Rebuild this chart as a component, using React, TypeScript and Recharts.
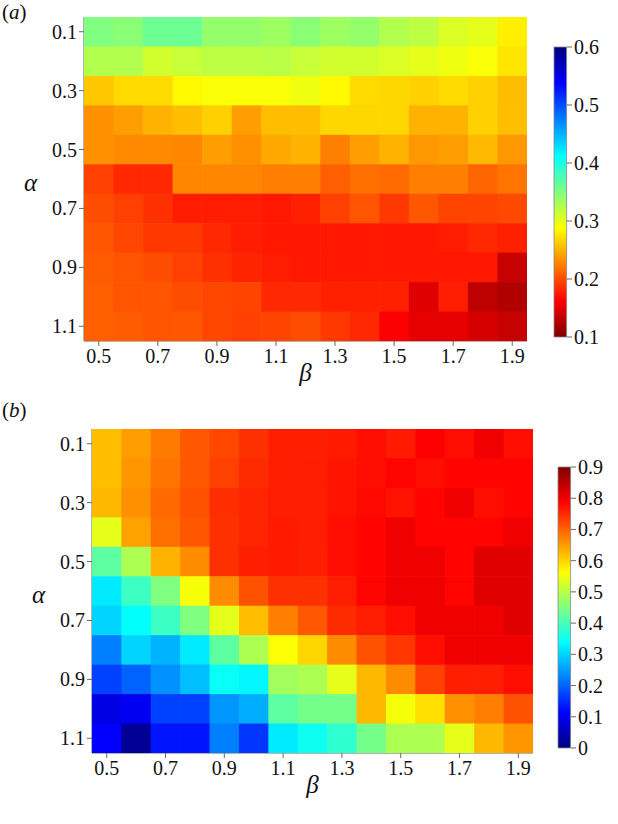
import React from "react";
import { ScatterChart, Scatter, XAxis, YAxis, BarChart, Bar, Label } from "recharts";

const BETA = [0.5, 0.6, 0.7, 0.8, 0.9, 1.0, 1.1, 1.2, 1.3, 1.4, 1.5, 1.6, 1.7, 1.8, 1.9];
const ALPHA = [0.1, 0.2, 0.3, 0.4, 0.5, 0.6, 0.7, 0.8, 0.9, 1.0, 1.1];
const X_TICKS = [0.5, 0.7, 0.9, 1.1, 1.3, 1.5, 1.7, 1.9];
const Y_TICKS = [0.1, 0.3, 0.5, 0.7, 0.9, 1.1];
const CB_A_TICKS = [0.1, 0.2, 0.3, 0.4, 0.5, 0.6];
const CB_B_TICKS = [0, 0.1, 0.2, 0.3, 0.4, 0.5, 0.6, 0.7, 0.8, 0.9];

// panel (a): rows = alpha, cols = beta
const GRID_A: number[][] = [
  [0.35, 0.345, 0.36, 0.36, 0.34, 0.34, 0.335, 0.345, 0.335, 0.34, 0.325, 0.32, 0.305, 0.3, 0.28],
  [0.325, 0.325, 0.31, 0.315, 0.32, 0.32, 0.322, 0.315, 0.31, 0.31, 0.305, 0.3, 0.295, 0.29, 0.275],
  [0.26, 0.27, 0.27, 0.285, 0.29, 0.29, 0.29, 0.295, 0.285, 0.27, 0.268, 0.265, 0.27, 0.265, 0.255],
  [0.233, 0.24, 0.25, 0.256, 0.265, 0.24, 0.256, 0.256, 0.268, 0.268, 0.268, 0.25, 0.25, 0.265, 0.256],
  [0.233, 0.23, 0.23, 0.228, 0.24, 0.233, 0.245, 0.25, 0.225, 0.24, 0.25, 0.237, 0.24, 0.253, 0.237],
  [0.194, 0.182, 0.182, 0.228, 0.228, 0.228, 0.225, 0.225, 0.209, 0.217, 0.215, 0.225, 0.225, 0.212, 0.22],
  [0.2, 0.194, 0.186, 0.176, 0.176, 0.176, 0.174, 0.178, 0.194, 0.204, 0.19, 0.205, 0.196, 0.196, 0.198],
  [0.205, 0.197, 0.19, 0.19, 0.182, 0.176, 0.174, 0.174, 0.174, 0.174, 0.174, 0.174, 0.176, 0.182, 0.178],
  [0.207, 0.204, 0.2, 0.194, 0.186, 0.18, 0.176, 0.174, 0.174, 0.174, 0.174, 0.174, 0.174, 0.174, 0.135],
  [0.209, 0.204, 0.204, 0.2, 0.197, 0.196, 0.182, 0.182, 0.178, 0.178, 0.178, 0.147, 0.176, 0.131, 0.124],
  [0.209, 0.207, 0.204, 0.205, 0.197, 0.194, 0.196, 0.2, 0.19, 0.182, 0.16, 0.15, 0.15, 0.143, 0.135],
];

// panel (b)
const GRID_B: number[][] = [
  [0.62, 0.65, 0.68, 0.71, 0.725, 0.745, 0.76, 0.76, 0.765, 0.775, 0.765, 0.79, 0.775, 0.8, 0.775],
  [0.62, 0.655, 0.685, 0.71, 0.73, 0.75, 0.76, 0.762, 0.77, 0.775, 0.785, 0.775, 0.785, 0.785, 0.785],
  [0.625, 0.66, 0.695, 0.715, 0.748, 0.755, 0.762, 0.762, 0.772, 0.78, 0.772, 0.785, 0.8, 0.775, 0.785],
  [0.54, 0.645, 0.69, 0.712, 0.745, 0.755, 0.765, 0.762, 0.775, 0.785, 0.8, 0.785, 0.785, 0.785, 0.8],
  [0.42, 0.49, 0.63, 0.665, 0.745, 0.76, 0.765, 0.76, 0.775, 0.785, 0.8, 0.8, 0.785, 0.815, 0.815],
  [0.32, 0.39, 0.45, 0.555, 0.665, 0.715, 0.745, 0.745, 0.762, 0.785, 0.8, 0.8, 0.785, 0.815, 0.815],
  [0.3, 0.34, 0.39, 0.45, 0.54, 0.62, 0.675, 0.71, 0.75, 0.762, 0.775, 0.8, 0.8, 0.8, 0.815],
  [0.225, 0.3, 0.27, 0.32, 0.42, 0.49, 0.56, 0.6, 0.665, 0.715, 0.74, 0.775, 0.8, 0.8, 0.8],
  [0.17, 0.2, 0.24, 0.28, 0.345, 0.33, 0.48, 0.49, 0.54, 0.625, 0.665, 0.73, 0.76, 0.76, 0.775],
  [0.09, 0.1, 0.17, 0.17, 0.245, 0.265, 0.42, 0.44, 0.44, 0.625, 0.555, 0.59, 0.66, 0.675, 0.715],
  [0.11, 0.02, 0.13, 0.13, 0.225, 0.16, 0.32, 0.35, 0.38, 0.44, 0.49, 0.49, 0.54, 0.625, 0.655],
];

const FONT = "'Liberation Serif', 'DejaVu Serif', serif";
const FRAME = "#6b6b5e";
const PLOT_W = 443;
const PLOT_H = 324;

const clamp = (x: number) => Math.max(0, Math.min(1, x));
const jet = (t: number) => {
  const r = clamp(1.5 - Math.abs(4 * t - 3));
  const g = clamp(1.5 - Math.abs(4 * t - 2));
  const b = clamp(1.5 - Math.abs(4 * t - 1));
  return `rgb(${Math.round(r * 255)},${Math.round(g * 255)},${Math.round(b * 255)})`;
};
const colorA = (v: number) => jet((0.6 - v) / 0.5);
const colorB = (v: number) => jet(v / 0.9);

const toPoints = (grid: number[][]) =>
  ALPHA.flatMap((a, i) => BETA.map((b, j) => ({ beta: b, alpha: a, v: grid[i][j] })));

const fmt = (v: number) => (v === 0 ? "0" : v.toFixed(1));

const tick = (anchor: string, dy: number) => (p: any) => (
  <text x={p.x} y={p.y} dy={dy} textAnchor={anchor} fill="#111"
    style={{ fontFamily: FONT, fontSize: 20 }}>
    {fmt(p.payload.value)}
  </text>
);

const greek = (ch: string, where: "bottom" | "left") => (p: any) => {
  const vb = p.viewBox;
  const x = where === "bottom" ? vb.x + vb.width / 2 : vb.x;
  const y = where === "bottom" ? vb.y + vb.height - 10 : vb.y + vb.height / 2 + 12;
  return (
    <text x={x} y={y} textAnchor={where === "bottom" ? "middle" : "start"} fill="#111"
      style={{ fontFamily: FONT, fontSize: 25, fontStyle: "italic" }}>
      {ch}
    </text>
  );
};

function Heatmap({ grid, color, top, left, right }: any) {
  const cw = PLOT_W / BETA.length;
  const ch = PLOT_H / ALPHA.length;
  const shape = (p: any) => (
    <rect x={p.cx - cw / 2} y={p.cy - ch / 2} width={cw + 0.6} height={ch + 0.6} fill={color(p.payload.v)} />
  );
  return (
    <div style={{ position: "absolute", left: 0, top }}>
      <ScatterChart width={618} height={400} margin={{ top: 17, right, bottom: 9, left }}>
        <XAxis dataKey="beta" type="number" domain={[0.45, 1.95]} ticks={X_TICKS} allowDataOverflow
          tick={tick("middle", 15)} tickSize={5}
          tickLine={{ stroke: FRAME }} axisLine={{ stroke: FRAME }} height={50}>
          <Label content={greek("β", "bottom")} />
        </XAxis>
        <XAxis xAxisId="t" orientation="top" type="number" domain={[0.45, 1.95]} height={0}
          tick={false} tickLine={false} axisLine={{ stroke: FRAME }} />
        <YAxis dataKey="alpha" type="number" domain={[0.05, 1.15]} reversed ticks={Y_TICKS} allowDataOverflow
          tick={tick("end", 7)} tickSize={5}
          tickLine={{ stroke: FRAME }} axisLine={{ stroke: FRAME }} width={60}>
          <Label content={greek("α", "left")} />
        </YAxis>
        <YAxis yAxisId="r" orientation="right" type="number" domain={[0.05, 1.15]} width={0}
          tick={false} tickLine={false} axisLine={{ stroke: FRAME }} />
        <Scatter data={toPoints(grid)} shape={shape} isAnimationActive={false} />
      </ScatterChart>
    </div>
  );
}

function ColorBar({ id, lo, hi, ticks, stopColor, left, top, width, height, bottom }: any) {
  const stops = Array.from({ length: 41 }, (_, i) => i / 40);
  return (
    <div style={{ position: "absolute", left, top }}>
      <BarChart width={width} height={height} data={[{ k: "c", r: [lo, hi] }]}
        margin={{ top: 17, right: 0, bottom, left: 13 }} barCategoryGap={0}>
        <defs>
          <linearGradient id={id} x1="0" y1="0" x2="0" y2="1">
            {stops.map((o) => (
              <stop key={o} offset={o} stopColor={stopColor(hi - (hi - lo) * o)} />
            ))}
          </linearGradient>
        </defs>
        <XAxis dataKey="k" hide />
        <YAxis orientation="right" type="number" domain={[lo, hi]} ticks={ticks} width={width - 27}
          tick={tick("start", 7)} tickSize={5} tickLine={{ stroke: FRAME }} axisLine={false} />
        <Bar dataKey="r" fill={`url(#${id})`} stroke="#888" strokeWidth={0.8} barSize={14} isAnimationActive={false} />
      </BarChart>
    </div>
  );
}

const panelLabel = (top: number, letter: string) => (
  <div style={{ position: "absolute", left: 2, top, fontFamily: FONT, fontSize: 21, lineHeight: "24px", color: "#111" }}>
    (<i>{letter}</i>)
  </div>
);

export default function App() {
  return (
    <div style={{ position: "absolute", left: 0, top: 0, width: 618, height: 824, background: "#fff" }}>
      <Heatmap grid={GRID_A} color={colorA} top={0} left={24} right={91} />
      <ColorBar id="jetA" lo={0.1} hi={0.6} ticks={CB_A_TICKS} stopColor={colorA}
        left={540} top={30} width={78} height={330} bottom={23} />
      <Heatmap grid={GRID_B} color={colorB} top={412} left={32} right={85} />
      <ColorBar id="jetB" lo={0} hi={0.9} ticks={CB_B_TICKS} stopColor={colorB}
        left={544} top={450} width={74} height={320} bottom={22} />
      {panelLabel(0, "a")}
      {panelLabel(398, "b")}
    </div>
  );
}
